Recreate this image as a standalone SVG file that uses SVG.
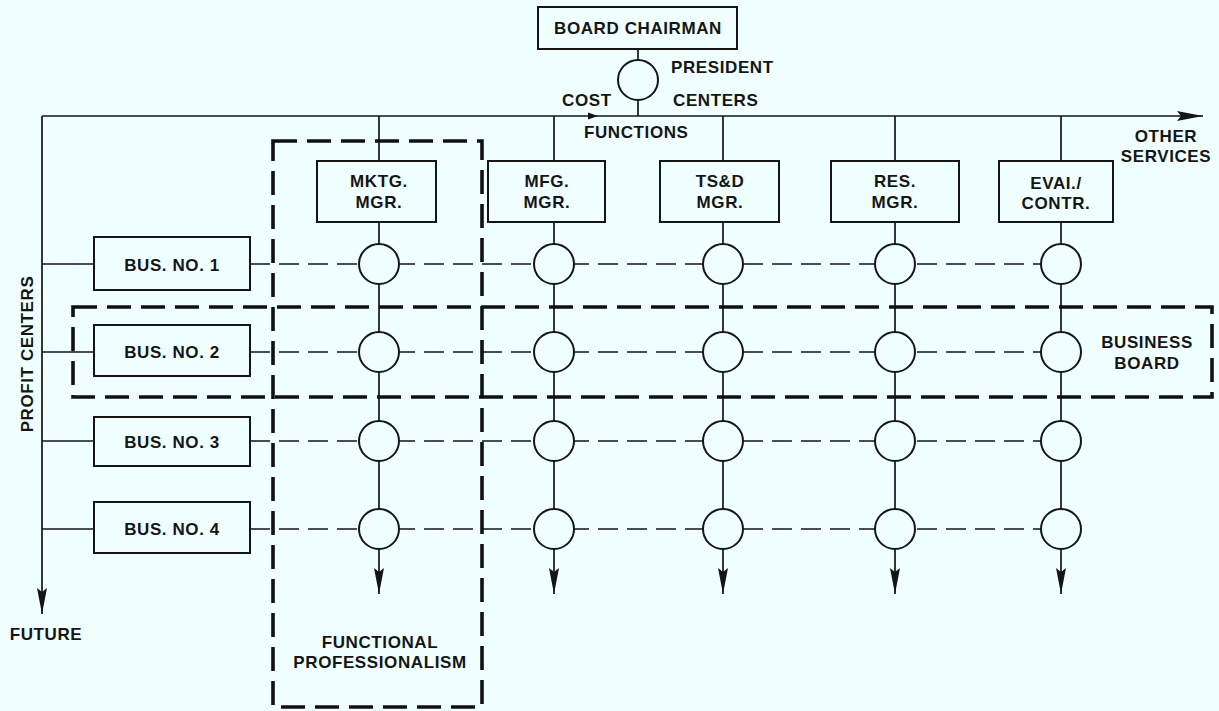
<svg xmlns="http://www.w3.org/2000/svg" width="1219" height="711" viewBox="0 0 1219 711">
  <defs>
    <style>
      .bg { fill: #f0ffff; }
      .box { fill: #f0ffff; stroke: #151515; stroke-width: 2; }
      .node { fill: #f0ffff; stroke: #151515; stroke-width: 2; }
      .line { fill: none; stroke: #151515; stroke-width: 1.7; }
      .dash { fill: none; stroke: #151515; stroke-width: 1.7; stroke-dasharray: 20 9; }
      .group { fill: none; stroke: #111; stroke-width: 3.6; stroke-dasharray: 24 10; }
      text { font-family: "Liberation Sans", Arial, sans-serif; font-size: 17px; font-weight: bold; letter-spacing: 0.6px; fill: #151515; }
      .c { text-anchor: middle; }
    </style>
    <marker id="arrow" viewBox="0 0 26 10" refX="26" refY="5" markerWidth="26" markerHeight="10" markerUnits="userSpaceOnUse" orient="auto">
      <path d="M0,0 L26,5 L0,10 L4,5 z" fill="#151515"/>
    </marker>
  </defs>

  <rect class="bg" x="0" y="0" width="1219" height="711"/>

  <!-- connectors -->
  <g id="connectors">
    <!-- chairman to president to cost-function line -->
    <line class="line" x1="638" y1="49" x2="638" y2="60"/>
    <line class="line" x1="638" y1="100" x2="638" y2="116"/>
    <!-- main horizontal line toward other services -->
    <line class="line" x1="42" y1="116" x2="1203" y2="116" marker-end="url(#arrow)"/>
    <path d="M588,112.5 L598,116 L588,119.5 z" fill="#151515"/>
    <!-- profit-center spine toward future -->
    <line class="line" x1="42" y1="116" x2="42" y2="614" marker-end="url(#arrow)"/>
    <line class="line" x1="42" y1="264" x2="94" y2="264"/>
    <line class="line" x1="42" y1="352" x2="94" y2="352"/>
    <line class="line" x1="42" y1="441" x2="94" y2="441"/>
    <line class="line" x1="42" y1="529" x2="94" y2="529"/>
    <!-- functional columns -->
    <line class="line" x1="379" y1="116" x2="379" y2="161"/>
    <line class="line" x1="554" y1="116" x2="554" y2="161"/>
    <line class="line" x1="723" y1="116" x2="723" y2="161"/>
    <line class="line" x1="895" y1="116" x2="895" y2="161"/>
    <line class="line" x1="1061" y1="116" x2="1061" y2="161"/>
    <line class="line" x1="379" y1="222" x2="379" y2="594" marker-end="url(#arrow)"/>
    <line class="line" x1="554" y1="222" x2="554" y2="594" marker-end="url(#arrow)"/>
    <line class="line" x1="723" y1="222" x2="723" y2="594" marker-end="url(#arrow)"/>
    <line class="line" x1="895" y1="222" x2="895" y2="594" marker-end="url(#arrow)"/>
    <line class="line" x1="1061" y1="222" x2="1061" y2="594" marker-end="url(#arrow)"/>
    <!-- business rows -->
    <line class="dash" x1="250" y1="264" x2="1041" y2="264"/>
    <line class="dash" x1="250" y1="352" x2="1041" y2="352"/>
    <line class="dash" x1="250" y1="441" x2="1041" y2="441"/>
    <line class="dash" x1="250" y1="529" x2="1041" y2="529"/>
  </g>

  <!-- groupings -->
  <g id="functional-professionalism">
    <rect class="group" x="273" y="141" width="209" height="566"/>
    <text class="c" x="380" y="648">FUNCTIONAL</text>
    <text class="c" x="380" y="668">PROFESSIONALISM</text>
  </g>
  <g id="business-board">
    <rect class="group" x="73" y="307" width="1139" height="90"/>
    <text class="c" x="1147" y="348">BUSINESS</text>
    <text class="c" x="1147" y="369">BOARD</text>
  </g>

  <!-- top of organisation -->
  <g id="board-chairman">
    <rect class="box" x="538" y="7" width="199" height="42"/>
    <text class="c" x="638" y="34">BOARD CHAIRMAN</text>
  </g>
  <g id="president">
    <circle class="node" cx="638" cy="80" r="20"/>
    <text x="671" y="73">PRESIDENT</text>
  </g>
  <g id="labels">
    <text x="562" y="106">COST</text>
    <text x="673" y="106">CENTERS</text>
    <text x="584" y="138">FUNCTIONS</text>
    <text class="c" x="1166" y="142">OTHER</text>
    <text class="c" x="1166" y="162">SERVICES</text>
    <text class="c" x="46" y="640">FUTURE</text>
    <text class="c" transform="translate(33,354) rotate(-90)">PROFIT CENTERS</text>
  </g>

  <!-- functional managers -->
  <g id="mktg-mgr">
    <rect class="box" x="317" y="161" width="119" height="61"/>
    <text class="c" x="379" y="187">MKTG.</text>
    <text class="c" x="379" y="208">MGR.</text>
  </g>
  <g id="mfg-mgr">
    <rect class="box" x="488" y="161" width="117" height="61"/>
    <text class="c" x="547" y="187">MFG.</text>
    <text class="c" x="547" y="208">MGR.</text>
  </g>
  <g id="tsd-mgr">
    <rect class="box" x="660" y="161" width="119" height="61"/>
    <text class="c" x="720" y="187">TS&amp;D</text>
    <text class="c" x="720" y="208">MGR.</text>
  </g>
  <g id="res-mgr">
    <rect class="box" x="831" y="161" width="128" height="61"/>
    <text class="c" x="895" y="187">RES.</text>
    <text class="c" x="895" y="208">MGR.</text>
  </g>
  <g id="eval-contr">
    <rect class="box" x="999" y="161" width="114" height="61"/>
    <text class="c" x="1056" y="189">EVAI./</text>
    <text class="c" x="1056" y="209">CONTR.</text>
  </g>

  <!-- businesses -->
  <g id="bus-1">
    <rect class="box" x="94" y="237" width="156" height="53"/>
    <text class="c" x="172" y="271">BUS. NO. 1</text>
  </g>
  <g id="bus-2">
    <rect class="box" x="94" y="325" width="156" height="51"/>
    <text class="c" x="172" y="358">BUS. NO. 2</text>
  </g>
  <g id="bus-3">
    <rect class="box" x="94" y="417" width="156" height="49"/>
    <text class="c" x="172" y="448">BUS. NO. 3</text>
  </g>
  <g id="bus-4">
    <rect class="box" x="94" y="502" width="156" height="51"/>
    <text class="c" x="172" y="535">BUS. NO. 4</text>
  </g>

  <!-- matrix intersections -->
  <g id="intersections">
    <circle class="node" cx="379" cy="264" r="20"/>
    <circle class="node" cx="554" cy="264" r="20"/>
    <circle class="node" cx="723" cy="264" r="20"/>
    <circle class="node" cx="895" cy="264" r="20"/>
    <circle class="node" cx="1061" cy="264" r="20"/>
    <circle class="node" cx="379" cy="352" r="20"/>
    <circle class="node" cx="554" cy="352" r="20"/>
    <circle class="node" cx="723" cy="352" r="20"/>
    <circle class="node" cx="895" cy="352" r="20"/>
    <circle class="node" cx="1061" cy="352" r="20"/>
    <circle class="node" cx="379" cy="441" r="20"/>
    <circle class="node" cx="554" cy="441" r="20"/>
    <circle class="node" cx="723" cy="441" r="20"/>
    <circle class="node" cx="895" cy="441" r="20"/>
    <circle class="node" cx="1061" cy="441" r="20"/>
    <circle class="node" cx="379" cy="529" r="20"/>
    <circle class="node" cx="554" cy="529" r="20"/>
    <circle class="node" cx="723" cy="529" r="20"/>
    <circle class="node" cx="895" cy="529" r="20"/>
    <circle class="node" cx="1061" cy="529" r="20"/>
  </g>
</svg>
